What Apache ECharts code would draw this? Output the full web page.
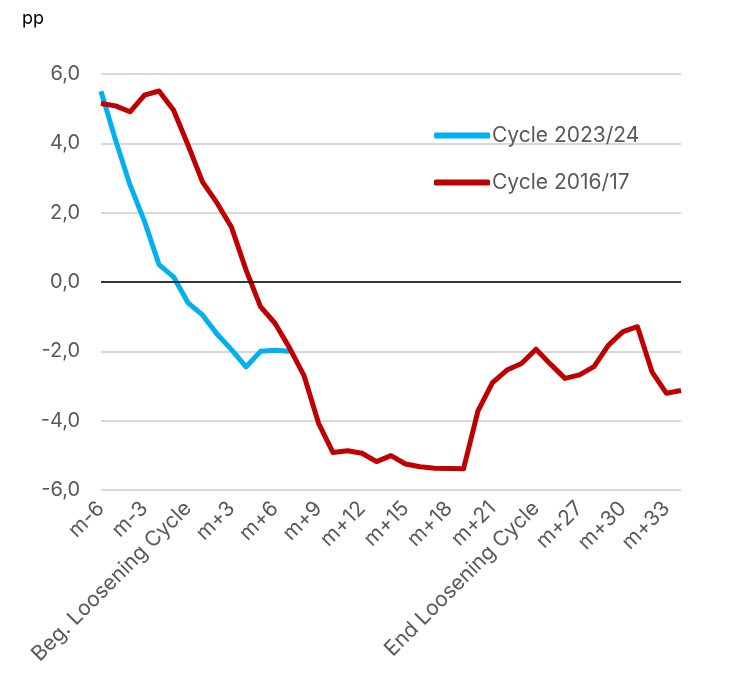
<!DOCTYPE html>
<html>
<head>
<meta charset="utf-8">
<script src="https://cdn.jsdelivr.net/npm/echarts@6/dist/echarts.min.js"></script>
<style>
  html, body { margin: 0; padding: 0; background: #fff; }
  #chart { width: 741px; height: 681px; }
</style>
</head>
<body>
<div id="chart"></div>
<script>
// Months relative to the start of the loosening cycle
const categories = [
  'm-6','m-5','m-4','m-3','m-2','m-1','Beg. Loosening Cycle',
  'm+1','m+2','m+3','m+4','m+5','m+6','m+7','m+8','m+9','m+10','m+11','m+12',
  'm+13','m+14','m+15','m+16','m+17','m+18','m+19','m+20','m+21','m+22','m+23',
  'End Loosening Cycle','m+25','m+26','m+27','m+28','m+29','m+30','m+31','m+32','m+33','m+34'
];

const cycle2023 = [
  5.5, 4.1, 2.8, 1.75, 0.5, 0.15, -0.6, -0.95, -1.5, -1.95, -2.45, -2.0, -1.97, -2.0
];

const cycle2016 = [
  5.15, 5.08, 4.91, 5.39, 5.51, 4.96, 3.95, 2.89, 2.28, 1.58, 0.35, -0.71, -1.19, -1.9,
  -2.7, -4.07, -4.92, -4.87, -4.94, -5.18, -5.01, -5.25, -5.33, -5.37, -5.38, -5.39,
  -3.72, -2.9, -2.54, -2.35, -1.94, -2.37, -2.78, -2.68, -2.44, -1.82, -1.43, -1.29,
  -2.59, -3.21, -3.13
];

const yTicks = { min: -6, max: 6, step: 2 };

const FONT = 'Inter, "Noto Sans", sans-serif';
const GREY = '#595959';

const chart = echarts.init(document.getElementById('chart'), null, { renderer: 'canvas' });

chart.setOption({
  animation: false,
  backgroundColor: '#ffffff',
  textStyle: { fontFamily: FONT },
  title: {
    text: 'pp',
    left: 17,
    top: 5,
    textStyle: { fontFamily: FONT, fontSize: 18, fontWeight: 'normal', color: '#000000' }
  },
  legend: {
    orient: 'vertical',
    left: 429,
    top: 120,
    itemGap: 26,
    itemWidth: 56,
    itemHeight: 6,
    icon: 'roundRect',
    textStyle: { fontFamily: FONT, fontSize: 21, color: GREY, padding: [0, 0, 0, -3] },
    data: ['Cycle 2023/24', 'Cycle 2016/17']
  },
  grid: { left: 101, right: 60, top: 74, bottom: 191, containLabel: false },
  xAxis: {
    type: 'category',
    data: categories,
    boundaryGap: false,
    axisLine: { show: false },
    axisTick: { show: false },
    splitLine: { show: false },
    axisLabel: {
      interval: 2,
      rotate: 45,
      margin: 15,
      fontFamily: FONT,
      fontSize: 21,
      color: GREY
    }
  },
  yAxis: {
    type: 'value',
    min: yTicks.min,
    max: yTicks.max,
    interval: yTicks.step,
    axisLine: { show: false },
    axisTick: { show: false },
    axisLabel: {
      margin: 21,
      fontFamily: FONT,
      fontSize: 20,
      color: GREY,
      formatter: v => v.toFixed(1).replace('.', ',')
    },
    splitLine: { lineStyle: { color: '#d9d9d9', width: 2 } }
  },
  series: [
    {
      name: 'Cycle 2023/24',
      type: 'line',
      data: cycle2023,
      symbol: 'none',
      z: 3,
      lineStyle: { color: '#00B0F0', width: 5, join: 'round' },
      itemStyle: { color: '#00B0F0' },
      markLine: {
        silent: true,
        symbol: 'none',
        label: { show: false },
        lineStyle: { color: '#000000', width: 1.6, type: 'solid' },
        data: [{ yAxis: 0 }]
      }
    },
    {
      name: 'Cycle 2016/17',
      type: 'line',
      data: cycle2016,
      symbol: 'none',
      z: 4,
      lineStyle: { color: '#C00000', width: 5, join: 'round' },
      itemStyle: { color: '#C00000' }
    }
  ]
});
</script>
</body>
</html>
